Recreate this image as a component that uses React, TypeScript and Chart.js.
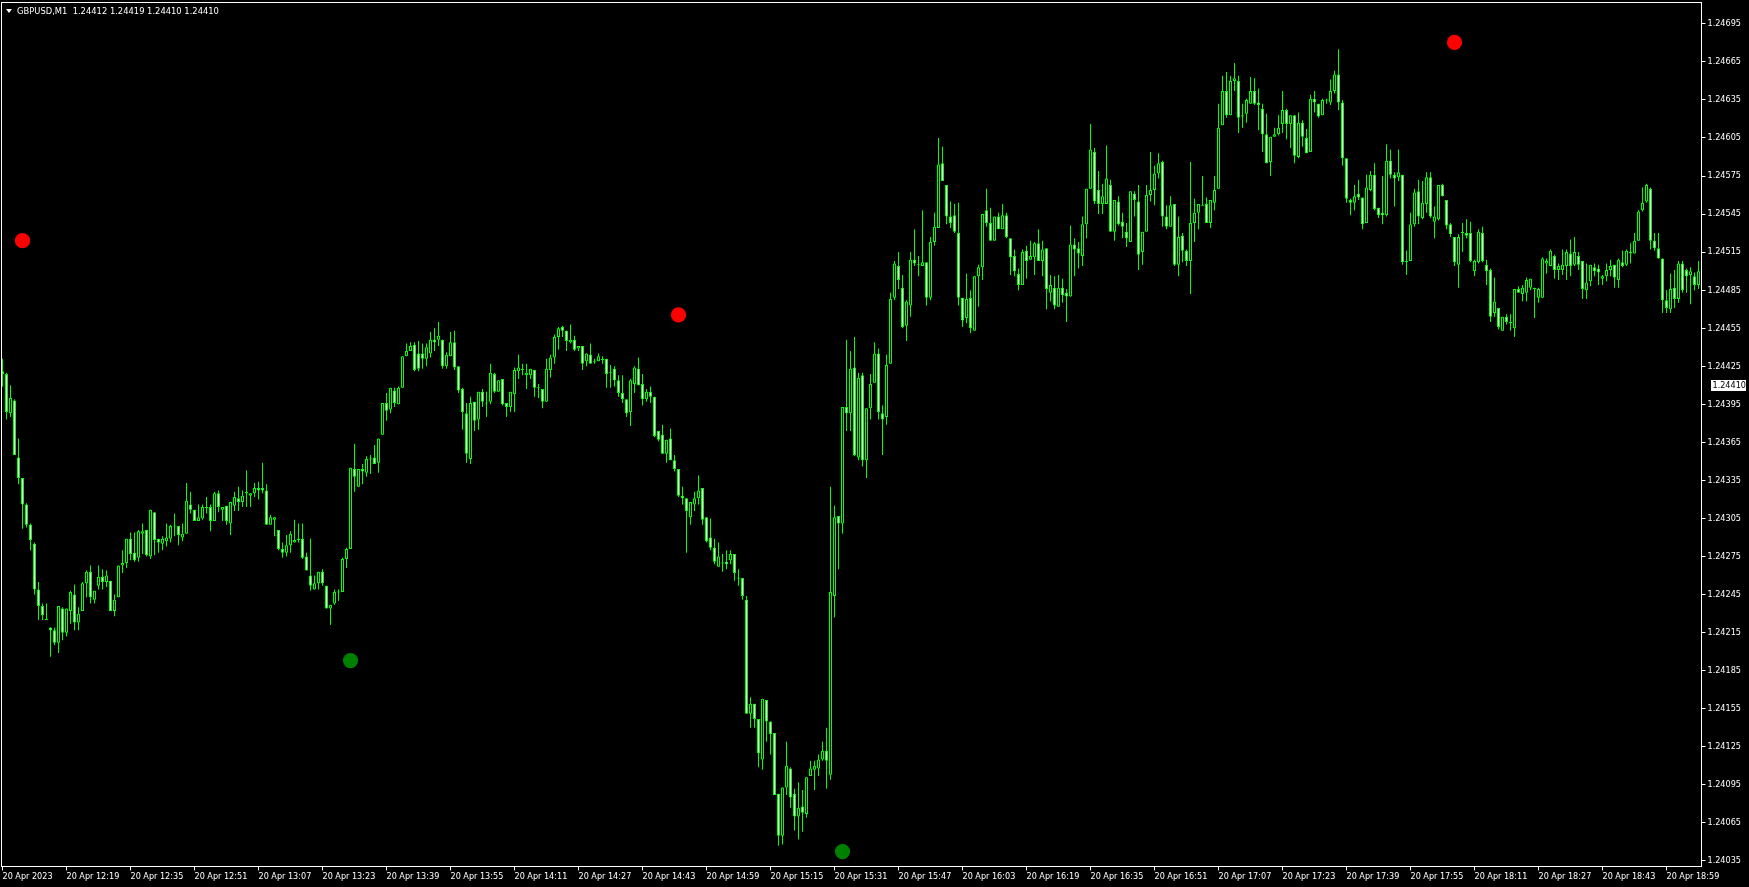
import React, { useEffect, useRef } from "react";
import { Chart, registerables } from "chart.js";

Chart.register(...registerables);

const symbolTitle = "GBPUSD,M1  1.24412 1.24419 1.24410 1.24410";
const currentPrice = 1.2441;

const firstBarMinute = 12 * 60 + 3;
const tickEvery = 16;
const tickLabels = [
  "20 Apr 2023", "20 Apr 12:19", "20 Apr 12:35", "20 Apr 12:51", "20 Apr 13:07", "20 Apr 13:23",
  "20 Apr 13:39", "20 Apr 13:55", "20 Apr 14:11", "20 Apr 14:27", "20 Apr 14:43", "20 Apr 14:59",
  "20 Apr 15:15", "20 Apr 15:31", "20 Apr 15:47", "20 Apr 16:03", "20 Apr 16:19", "20 Apr 16:35",
  "20 Apr 16:51", "20 Apr 17:07", "20 Apr 17:23", "20 Apr 17:39", "20 Apr 17:55", "20 Apr 18:11",
  "20 Apr 18:27", "20 Apr 18:43", "20 Apr 18:59",
];

const priceTicks = [
  1.24035, 1.24065, 1.24095, 1.24125, 1.24155, 1.24185, 1.24215, 1.24245, 1.24275, 1.24305, 1.24335,
  1.24365, 1.24395, 1.24425, 1.24455, 1.24485, 1.24515, 1.24545, 1.24575, 1.24605, 1.24635, 1.24665,
  1.24695,
];
const priceMin = 1.2403066;
const priceMax = 1.2471179;

const opens = [
1.24421,1.24419,1.24388,1.24398,1.24353,1.24337,1.24316,1.24300,1.24285,1.24249,
1.24236,1.24226,1.24219,1.24217,1.24207,1.24234,1.24215,1.24232,1.24245,1.24223,
1.24232,1.24254,1.24263,1.24241,1.24252,1.24259,1.24255,1.24256,1.24232,1.24243,
1.24268,1.24270,1.24289,1.24278,1.24274,1.24293,1.24296,1.24275,1.24310,1.24289,
1.24285,1.24287,1.24289,1.24299,1.24299,1.24290,1.24293,1.24316,1.24312,1.24303,
1.24305,1.24314,1.24314,1.24303,1.24325,1.24312,1.24315,1.24301,1.24315,1.24321,
1.24318,1.24325,1.24323,1.24325,1.24329,1.24329,1.24327,1.24300,1.24304,1.24296,
1.24281,1.24278,1.24284,1.24286,1.24288,1.24289,1.24275,1.24260,1.24249,1.24254,
1.24263,1.24252,1.24234,1.24238,1.24247,1.24247,1.24273,1.24281,1.24344,1.24330,
1.24344,1.24341,1.24352,1.24353,1.24349,1.24371,1.24396,1.24391,1.24406,1.24395,
1.24408,1.24433,1.24437,1.24442,1.24435,1.24435,1.24431,1.24435,1.24446,1.24446,
1.24446,1.24425,1.24433,1.24444,1.24425,1.24407,1.24388,1.24352,1.24397,1.24383,
1.24405,1.24396,1.24397,1.24419,1.24405,1.24415,1.24396,1.24393,1.24403,1.24421,
1.24423,1.24418,1.24418,1.24422,1.24408,1.24407,1.24397,1.24422,1.24432,1.24448,
1.24456,1.24453,1.24444,1.24446,1.24439,1.24441,1.24429,1.24434,1.24429,1.24429,
1.24431,1.24431,1.24420,1.24423,1.24414,1.24404,1.24399,1.24389,1.24411,1.24423,
1.24411,1.24399,1.24405,1.24401,1.24374,1.24371,1.24356,1.24368,1.24351,1.24344,
1.24323,1.24321,1.24306,1.24316,1.24321,1.24329,1.24306,1.24290,1.24282,1.24267,
1.24270,1.24271,1.24272,1.24277,1.24258,1.24258,1.24241,1.24151,1.24159,1.24147,
1.24115,1.24162,1.24145,1.24136,1.24088,1.24055,1.24093,1.24108,1.24088,1.24070,
1.24078,1.24072,1.24102,1.24107,1.24108,1.24115,1.24122,1.24103,1.24244,1.24307,
1.24301,1.24393,1.24388,1.24424,1.24353,1.24418,1.24351,1.24392,1.24412,1.24435,
1.24388,1.24385,1.24427,1.24479,1.24504,1.24487,1.24457,1.24473,1.24509,1.24505,
1.24504,1.24507,1.24479,1.24523,1.24534,1.24585,1.24568,1.24543,1.24544,1.24530,
1.24479,1.24463,1.24479,1.24453,1.24496,1.24503,1.24548,1.24538,1.24524,1.24543,
1.24533,1.24544,1.24526,1.24512,1.24498,1.24489,1.24516,1.24509,1.24511,1.24522,
1.24508,1.24518,1.24483,1.24487,1.24472,1.24487,1.24483,1.24480,1.24521,1.24518,
1.24512,1.24537,1.24565,1.24594,1.24564,1.24553,1.24553,1.24568,1.24531,1.24555,
1.24539,1.24531,1.24523,1.24561,1.24555,1.24515,1.24531,1.24560,1.24564,1.24577,
1.24586,1.24543,1.24535,1.24553,1.24505,1.24528,1.24516,1.24508,1.24538,1.24546,
1.24552,1.24553,1.24538,1.24554,1.24565,1.24615,1.24642,1.24623,1.24650,1.24650,
1.24623,1.24624,1.24632,1.24642,1.24633,1.24628,1.24608,1.24586,1.24606,1.24608,
1.24616,1.24627,1.24616,1.24623,1.24590,1.24617,1.24605,1.24594,1.24636,1.24632,
1.24623,1.24635,1.24633,1.24642,1.24655,1.24633,1.24589,1.24556,1.24554,1.24561,
1.24558,1.24538,1.24564,1.24576,1.24550,1.24546,1.24544,1.24587,1.24576,1.24574,
1.24576,1.24508,1.24508,1.24537,1.24563,1.24542,1.24553,1.24574,1.24539,1.24541,
1.24568,1.24556,1.24537,1.24527,1.24505,1.24530,1.24530,1.24530,1.24500,1.24507,
1.24530,1.24505,1.24501,1.24467,1.24471,1.24453,1.24464,1.24459,1.24455,1.24486,
1.24482,1.24483,1.24487,1.24487,1.24479,1.24479,1.24506,1.24504,1.24512,1.24501,
1.24501,1.24504,1.24514,1.24505,1.24512,1.24508,1.24485,1.24492,1.24503,1.24502,
1.24494,1.24496,1.24501,1.24505,1.24493,1.24507,1.24505,1.24514,1.24514,1.24524,
1.24548,1.24555,1.24565,1.24524,1.24518,1.24510,1.24477,1.24470,1.24487,1.24478,
1.24506,1.24501,1.24497,1.24496,1.24489,
];

const highs = [
1.24431,1.24420,1.24410,1.24399,1.24368,1.24337,1.24317,1.24301,1.24286,1.24255,
1.24238,1.24238,1.24219,1.24219,1.24236,1.24235,1.24234,1.24248,1.24253,1.24235,
1.24255,1.24264,1.24268,1.24248,1.24268,1.24265,1.24264,1.24256,1.24245,1.24268,
1.24280,1.24289,1.24294,1.24294,1.24296,1.24301,1.24296,1.24312,1.24310,1.24289,
1.24291,1.24301,1.24300,1.24309,1.24299,1.24301,1.24333,1.24326,1.24312,1.24316,
1.24316,1.24322,1.24316,1.24326,1.24327,1.24314,1.24315,1.24318,1.24326,1.24330,
1.24327,1.24343,1.24325,1.24333,1.24334,1.24349,1.24332,1.24308,1.24306,1.24296,
1.24286,1.24292,1.24295,1.24304,1.24301,1.24301,1.24278,1.24289,1.24260,1.24263,
1.24265,1.24252,1.24237,1.24249,1.24249,1.24274,1.24282,1.24345,1.24364,1.24344,
1.24348,1.24354,1.24355,1.24363,1.24368,1.24396,1.24404,1.24408,1.24408,1.24409,
1.24433,1.24443,1.24444,1.24444,1.24445,1.24443,1.24443,1.24452,1.24455,1.24460,
1.24446,1.24436,1.24452,1.24453,1.24425,1.24408,1.24396,1.24401,1.24397,1.24405,
1.24407,1.24405,1.24427,1.24420,1.24414,1.24415,1.24396,1.24405,1.24424,1.24434,
1.24427,1.24427,1.24423,1.24422,1.24411,1.24407,1.24431,1.24434,1.24450,1.24456,
1.24457,1.24453,1.24458,1.24449,1.24441,1.24441,1.24435,1.24443,1.24431,1.24435,
1.24433,1.24431,1.24426,1.24425,1.24418,1.24418,1.24399,1.24415,1.24425,1.24432,
1.24419,1.24407,1.24409,1.24401,1.24374,1.24379,1.24367,1.24376,1.24355,1.24344,
1.24330,1.24321,1.24318,1.24326,1.24339,1.24329,1.24306,1.24305,1.24289,1.24286,
1.24277,1.24280,1.24280,1.24277,1.24265,1.24258,1.24244,1.24164,1.24159,1.24147,
1.24163,1.24162,1.24145,1.24136,1.24088,1.24093,1.24129,1.24109,1.24092,1.24097,
1.24091,1.24101,1.24114,1.24114,1.24119,1.24129,1.24140,1.24330,1.24315,1.24307,
1.24393,1.24446,1.24437,1.24448,1.24420,1.24420,1.24392,1.24419,1.24444,1.24439,
1.24394,1.24434,1.24483,1.24508,1.24515,1.24497,1.24477,1.24515,1.24533,1.24512,
1.24548,1.24507,1.24527,1.24546,1.24605,1.24598,1.24568,1.24555,1.24553,1.24554,
1.24479,1.24498,1.24485,1.24496,1.24505,1.24545,1.24565,1.24550,1.24543,1.24546,
1.24553,1.24546,1.24526,1.24517,1.24502,1.24517,1.24520,1.24524,1.24523,1.24533,
1.24524,1.24518,1.24497,1.24496,1.24497,1.24494,1.24486,1.24536,1.24526,1.24523,
1.24543,1.24565,1.24616,1.24597,1.24579,1.24569,1.24599,1.24572,1.24556,1.24559,
1.24546,1.24538,1.24563,1.24563,1.24568,1.24531,1.24568,1.24594,1.24583,1.24593,
1.24587,1.24552,1.24559,1.24553,1.24543,1.24530,1.24517,1.24586,1.24557,1.24553,
1.24575,1.24558,1.24556,1.24575,1.24632,1.24654,1.24657,1.24654,1.24664,1.24654,
1.24632,1.24636,1.24653,1.24652,1.24644,1.24632,1.24624,1.24606,1.24613,1.24623,
1.24642,1.24628,1.24623,1.24623,1.24625,1.24619,1.24612,1.24639,1.24642,1.24632,
1.24636,1.24636,1.24651,1.24658,1.24675,1.24635,1.24589,1.24557,1.24568,1.24572,
1.24558,1.24576,1.24579,1.24585,1.24550,1.24575,1.24600,1.24596,1.24578,1.24596,
1.24576,1.24516,1.24546,1.24565,1.24572,1.24571,1.24578,1.24578,1.24551,1.24568,
1.24569,1.24556,1.24538,1.24527,1.24529,1.24538,1.24541,1.24539,1.24509,1.24533,
1.24535,1.24509,1.24502,1.24495,1.24471,1.24464,1.24466,1.24466,1.24486,1.24488,
1.24489,1.24495,1.24494,1.24487,1.24487,1.24511,1.24510,1.24517,1.24513,1.24506,
1.24517,1.24517,1.24525,1.24527,1.24515,1.24508,1.24506,1.24505,1.24506,1.24505,
1.24497,1.24506,1.24509,1.24505,1.24510,1.24516,1.24517,1.24522,1.24530,1.24548,
1.24566,1.24569,1.24566,1.24530,1.24530,1.24510,1.24485,1.24498,1.24501,1.24508,
1.24508,1.24502,1.24503,1.24499,1.24508,
];

const lows = [
1.24409,1.24383,1.24385,1.24355,1.24332,1.24297,1.24298,1.24280,1.24245,1.24225,
1.24225,1.24225,1.24196,1.24205,1.24199,1.24209,1.24212,1.24222,1.24217,1.24217,
1.24232,1.24243,1.24238,1.24238,1.24249,1.24249,1.24251,1.24232,1.24228,1.24243,
1.24262,1.24266,1.24272,1.24271,1.24271,1.24277,1.24275,1.24273,1.24276,1.24278,
1.24280,1.24283,1.24286,1.24291,1.24284,1.24287,1.24293,1.24309,1.24303,1.24303,
1.24304,1.24309,1.24295,1.24303,1.24310,1.24303,1.24300,1.24292,1.24311,1.24311,
1.24314,1.24314,1.24314,1.24322,1.24320,1.24325,1.24300,1.24300,1.24291,1.24280,
1.24274,1.24275,1.24278,1.24286,1.24286,1.24273,1.24264,1.24248,1.24249,1.24249,
1.24252,1.24234,1.24221,1.24237,1.24240,1.24247,1.24266,1.24281,1.24326,1.24330,
1.24332,1.24338,1.24340,1.24348,1.24341,1.24371,1.24382,1.24388,1.24393,1.24395,
1.24408,1.24433,1.24437,1.24421,1.24421,1.24423,1.24425,1.24432,1.24437,1.24441,
1.24423,1.24423,1.24433,1.24422,1.24404,1.24375,1.24349,1.24348,1.24374,1.24375,
1.24393,1.24385,1.24395,1.24404,1.24405,1.24394,1.24385,1.24389,1.24389,1.24415,
1.24418,1.24407,1.24415,1.24401,1.24400,1.24392,1.24397,1.24416,1.24427,1.24438,
1.24448,1.24437,1.24443,1.24437,1.24437,1.24422,1.24425,1.24427,1.24427,1.24429,
1.24427,1.24408,1.24408,1.24409,1.24401,1.24396,1.24385,1.24378,1.24404,1.24410,
1.24394,1.24397,1.24396,1.24369,1.24366,1.24356,1.24349,1.24351,1.24342,1.24322,
1.24316,1.24278,1.24300,1.24311,1.24316,1.24300,1.24286,1.24280,1.24269,1.24267,
1.24263,1.24265,1.24269,1.24256,1.24252,1.24241,1.24151,1.24140,1.24140,1.24109,
1.24107,1.24129,1.24119,1.24087,1.24047,1.24048,1.24087,1.24077,1.24059,1.24052,
1.24058,1.24069,1.24102,1.24091,1.24102,1.24114,1.24092,1.24099,1.24227,1.24265,
1.24293,1.24374,1.24374,1.24354,1.24351,1.24346,1.24337,1.24383,1.24412,1.24383,
1.24355,1.24379,1.24427,1.24477,1.24486,1.24455,1.24445,1.24464,1.24504,1.24496,
1.24504,1.24473,1.24477,1.24520,1.24534,1.24571,1.24537,1.24534,1.24530,1.24473,
1.24456,1.24459,1.24451,1.24453,1.24472,1.24493,1.24535,1.24524,1.24524,1.24533,
1.24533,1.24526,1.24497,1.24496,1.24485,1.24489,1.24494,1.24509,1.24497,1.24508,
1.24496,1.24470,1.24476,1.24470,1.24472,1.24475,1.24460,1.24480,1.24496,1.24502,
1.24504,1.24526,1.24565,1.24553,1.24545,1.24545,1.24553,1.24531,1.24524,1.24536,
1.24526,1.24519,1.24523,1.24543,1.24501,1.24505,1.24531,1.24555,1.24552,1.24573,
1.24535,1.24533,1.24535,1.24504,1.24496,1.24507,1.24504,1.24482,1.24523,1.24533,
1.24552,1.24538,1.24534,1.24548,1.24565,1.24615,1.24621,1.24623,1.24642,1.24609,
1.24613,1.24617,1.24632,1.24631,1.24611,1.24594,1.24585,1.24575,1.24606,1.24607,
1.24609,1.24604,1.24597,1.24585,1.24589,1.24598,1.24593,1.24594,1.24625,1.24621,
1.24623,1.24632,1.24631,1.24640,1.24627,1.24583,1.24554,1.24544,1.24548,1.24556,
1.24533,1.24538,1.24563,1.24548,1.24542,1.24537,1.24543,1.24573,1.24551,1.24571,
1.24505,1.24497,1.24508,1.24535,1.24537,1.24541,1.24546,1.24542,1.24526,1.24540,
1.24559,1.24533,1.24527,1.24504,1.24487,1.24515,1.24526,1.24507,1.24496,1.24506,
1.24507,1.24489,1.24460,1.24464,1.24454,1.24453,1.24458,1.24453,1.24448,1.24483,
1.24476,1.24476,1.24485,1.24463,1.24475,1.24479,1.24498,1.24504,1.24494,1.24493,
1.24497,1.24493,1.24496,1.24504,1.24501,1.24478,1.24478,1.24488,1.24496,1.24489,
1.24489,1.24492,1.24496,1.24487,1.24487,1.24503,1.24504,1.24506,1.24514,1.24524,
1.24547,1.24554,1.24517,1.24516,1.24510,1.24467,1.24467,1.24467,1.24471,1.24475,
1.24483,1.24483,1.24474,1.24485,1.24486,
];

const closes = [
1.24419,1.24389,1.24400,1.24355,1.24337,1.24316,1.24300,1.24288,1.24249,1.24236,
1.24229,1.24225,1.24217,1.24207,1.24236,1.24215,1.24234,1.24247,1.24223,1.24230,
1.24254,1.24263,1.24243,1.24248,1.24259,1.24255,1.24260,1.24232,1.24241,1.24268,
1.24270,1.24289,1.24277,1.24272,1.24295,1.24295,1.24276,1.24312,1.24288,1.24286,
1.24289,1.24290,1.24299,1.24299,1.24292,1.24293,1.24319,1.24312,1.24303,1.24306,
1.24314,1.24313,1.24303,1.24325,1.24314,1.24314,1.24303,1.24318,1.24322,1.24318,
1.24323,1.24326,1.24325,1.24329,1.24327,1.24327,1.24300,1.24306,1.24306,1.24281,
1.24278,1.24284,1.24293,1.24288,1.24289,1.24274,1.24264,1.24252,1.24254,1.24263,
1.24254,1.24234,1.24237,1.24247,1.24247,1.24273,1.24281,1.24345,1.24338,1.24344,
1.24342,1.24352,1.24352,1.24348,1.24368,1.24396,1.24390,1.24408,1.24396,1.24408,
1.24433,1.24437,1.24441,1.24422,1.24423,1.24431,1.24440,1.24446,1.24444,1.24449,
1.24425,1.24434,1.24444,1.24424,1.24406,1.24389,1.24356,1.24396,1.24382,1.24405,
1.24397,1.24396,1.24420,1.24405,1.24414,1.24395,1.24393,1.24405,1.24422,1.24424,
1.24422,1.24420,1.24423,1.24408,1.24408,1.24397,1.24423,1.24432,1.24448,1.24455,
1.24453,1.24445,1.24446,1.24438,1.24441,1.24427,1.24435,1.24427,1.24429,1.24433,
1.24430,1.24419,1.24420,1.24414,1.24404,1.24399,1.24388,1.24414,1.24424,1.24410,
1.24399,1.24405,1.24401,1.24370,1.24367,1.24356,1.24367,1.24351,1.24344,1.24323,
1.24321,1.24311,1.24318,1.24321,1.24327,1.24304,1.24287,1.24282,1.24271,1.24275,
1.24270,1.24269,1.24277,1.24262,1.24258,1.24244,1.24151,1.24159,1.24147,1.24120,
1.24163,1.24145,1.24135,1.24087,1.24055,1.24093,1.24110,1.24085,1.24070,1.24077,
1.24073,1.24101,1.24108,1.24110,1.24115,1.24122,1.24114,1.24247,1.24306,1.24301,
1.24393,1.24388,1.24423,1.24355,1.24416,1.24351,1.24392,1.24411,1.24435,1.24389,
1.24383,1.24426,1.24478,1.24506,1.24493,1.24456,1.24476,1.24509,1.24506,1.24505,
1.24507,1.24479,1.24523,1.24535,1.24584,1.24571,1.24543,1.24538,1.24531,1.24479,
1.24461,1.24478,1.24455,1.24496,1.24503,1.24545,1.24538,1.24524,1.24543,1.24533,
1.24544,1.24527,1.24511,1.24500,1.24489,1.24515,1.24508,1.24512,1.24522,1.24508,
1.24517,1.24486,1.24489,1.24473,1.24487,1.24481,1.24480,1.24521,1.24517,1.24514,
1.24537,1.24565,1.24596,1.24555,1.24553,1.24559,1.24573,1.24531,1.24556,1.24537,
1.24535,1.24526,1.24563,1.24556,1.24513,1.24531,1.24560,1.24564,1.24577,1.24585,
1.24543,1.24535,1.24552,1.24505,1.24527,1.24516,1.24508,1.24538,1.24546,1.24553,
1.24552,1.24538,1.24556,1.24564,1.24613,1.24642,1.24623,1.24650,1.24652,1.24621,
1.24622,1.24635,1.24642,1.24632,1.24631,1.24608,1.24585,1.24606,1.24608,1.24613,
1.24627,1.24616,1.24623,1.24591,1.24617,1.24606,1.24593,1.24636,1.24633,1.24622,
1.24635,1.24635,1.24642,1.24655,1.24633,1.24589,1.24557,1.24554,1.24559,1.24558,
1.24537,1.24566,1.24576,1.24549,1.24544,1.24544,1.24587,1.24576,1.24573,1.24578,
1.24507,1.24507,1.24537,1.24562,1.24543,1.24554,1.24574,1.24543,1.24543,1.24568,
1.24559,1.24536,1.24529,1.24507,1.24527,1.24531,1.24528,1.24508,1.24508,1.24531,
1.24508,1.24500,1.24464,1.24476,1.24456,1.24464,1.24460,1.24460,1.24486,1.24483,
1.24487,1.24493,1.24494,1.24486,1.24486,1.24510,1.24508,1.24516,1.24501,1.24504,
1.24505,1.24515,1.24504,1.24515,1.24505,1.24486,1.24491,1.24505,1.24500,1.24499,
1.24496,1.24501,1.24504,1.24495,1.24509,1.24504,1.24516,1.24515,1.24524,1.24547,
1.24554,1.24568,1.24524,1.24518,1.24510,1.24477,1.24471,1.24486,1.24478,1.24506,
1.24485,1.24496,1.24500,1.24489,1.24500,
];

const sellSignalBars = [5, 169, 363];
const sellSignalPrices = [1.24524, 1.244656, 1.246803];
const buySignalBars = [87, 210];
const buySignalPrices = [1.24193, 1.240424];

const FONT_FAMILY = "'DejaVu Sans Condensed', 'Liberation Sans', Arial, sans-serif";
const BULL_FILL = "#000000";
const BEAR_FILL = "#ffffff";
const CANDLE_LINE = "#00ff00";

export default function App() {
  const canvasRef = useRef<HTMLCanvasElement | null>(null);

  useEffect(() => {
    document.body.style.margin = "0";
    document.body.style.background = "#000";
    const canvas = canvasRef.current;
    if (!canvas) return;

    const n = closes.length;
    const barTimes = opens.map((_, i) => {
      const m = firstBarMinute + i;
      const hh = String(Math.floor(m / 60)).padStart(2, "0");
      const mm = String(m % 60).padStart(2, "0");
      return `${hh}:${mm}`;
    });

    const minBody = 0.0000079;
    const wickData = opens.map((o, i) => [
      Math.min(lows[i], o, closes[i]),
      Math.max(highs[i], o, closes[i]),
    ]);
    const bodyData = opens.map((o, i) => {
      let lo = Math.min(o, closes[i]);
      let hi = Math.max(o, closes[i]);
      if (hi - lo < minBody) {
        const mid = (hi + lo) / 2;
        lo = mid - minBody / 2;
        hi = mid + minBody / 2;
      }
      return [lo, hi];
    });
    const bodyFill = opens.map((o, i) => (closes[i] < o ? BEAR_FILL : BULL_FILL));

    const sellData: (number | null)[] = new Array(n).fill(null);
    sellSignalBars.forEach((b, k) => (sellData[b] = sellSignalPrices[k]));
    const buyData: (number | null)[] = new Array(n).fill(null);
    buySignalBars.forEach((b, k) => (buyData[b] = buySignalPrices[k]));

    const framePlugin = {
      id: "mtFrame",
      afterDraw(chart: any) {
        const { ctx, chartArea } = chart;
        ctx.save();
        ctx.strokeStyle = "#ffffff";
        ctx.lineWidth = 1;
        ctx.strokeRect(
          chartArea.left + 1,
          chartArea.top,
          chartArea.right - chartArea.left,
          chartArea.bottom - chartArea.top
        );
        const y = chart.scales.y.getPixelForValue(currentPrice);
        const x = chartArea.right + 10.5;
        ctx.fillStyle = "#ffffff";
        ctx.fillRect(x, Math.round(y) - 5, 35, 11);
        ctx.fillStyle = "#000000";
        ctx.font = `9px ${FONT_FAMILY}`;
        ctx.textBaseline = "middle";
        ctx.textAlign = "left";
        ctx.fillText(currentPrice.toFixed(5), x + 1.5, Math.round(y) + 0.5);
        ctx.restore();
      },
    };

    const chart = new Chart(canvas, {
      type: "bar",
      data: {
        labels: barTimes,
        datasets: [
          {
            type: "line",
            label: "sell",
            data: sellData,
            showLine: false,
            pointRadius: 7.6,
            pointHoverRadius: 7.6,
            pointBackgroundColor: "#ff0000",
            pointBorderColor: "#ff0000",
            pointBorderWidth: 0,
            clip: false,
            order: 1,
          } as any,
          {
            type: "line",
            label: "buy",
            data: buyData,
            showLine: false,
            pointRadius: 7.6,
            pointHoverRadius: 7.6,
            pointBackgroundColor: "#008000",
            pointBorderColor: "#008000",
            pointBorderWidth: 0,
            clip: false,
            order: 1,
          } as any,
          {
            type: "bar",
            label: "body",
            data: bodyData as any,
            backgroundColor: bodyFill,
            borderColor: CANDLE_LINE,
            borderWidth: 1,
            borderSkipped: false,
            barThickness: 3,
            grouped: false,
            inflateAmount: 0,
            order: 2,
          } as any,
          {
            type: "bar",
            label: "wick",
            data: wickData as any,
            backgroundColor: CANDLE_LINE,
            borderWidth: 0,
            barThickness: 1,
            grouped: false,
            inflateAmount: 0,
            order: 3,
          } as any,
        ],
      },
      options: {
        animation: false,
        responsive: false,
        devicePixelRatio: 1,
        events: [],
        layout: { autoPadding: false, padding: { left: 0.5, top: 2.5, right: 0, bottom: 0 } },
        plugins: {
          legend: { display: false },
          tooltip: { enabled: false },
          title: { display: false },
        },
        scales: {
          x: {
            type: "category",
            offset: true,
            grid: {
              display: true,
              drawOnChartArea: false,
              drawTicks: true,
              tickLength: 4,
              color: "#ffffff",
              offset: false,
            },
            border: { display: false },
            ticks: {
              autoSkip: false,
              maxRotation: 0,
              minRotation: 0,
              align: "start",
              padding: 1,
              color: "#ffffff",
              font: { family: FONT_FAMILY, size: 9 },
              callback: (_v: any, index: number) => tickLabels[index] ?? "",
            },
            afterBuildTicks: (scale: any) => {
              scale.ticks = scale.ticks.filter((t: any) => t.value % tickEvery === 0);
            },
            afterFit: (scale: any) => {
              scale.height = 20.5;
              scale.paddingLeft = 0;
              scale.paddingRight = 0;
            },
          },
          y: {
            type: "linear",
            position: "right",
            min: priceMin,
            max: priceMax,
            grid: {
              drawOnChartArea: false,
              drawTicks: true,
              tickLength: 5,
              color: "#ffffff",
            },
            border: { display: false },
            ticks: {
              autoSkip: false,
              padding: 2,
              color: "#ffffff",
              font: { family: FONT_FAMILY, size: 9 },
              callback: (v: any) => Number(v).toFixed(5),
            },
            afterBuildTicks: (scale: any) => {
              scale.ticks = priceTicks.map((v) => ({ value: v }));
            },
            afterFit: (scale: any) => {
              scale.width = 48.5;
              scale.paddingTop = 0;
              scale.paddingBottom = 0;
            },
          },
        },
      } as any,
      plugins: [framePlugin],
    });

    return () => chart.destroy();
  }, []);

  return (
    <div style={{ position: "relative", width: 1749, height: 887, background: "#000", overflow: "hidden" }}>
      <canvas ref={canvasRef} width={1749} height={887} style={{ display: "block", background: "#000" }} />
      <div
        style={{
          position: "absolute",
          left: 6,
          top: 9,
          width: 0,
          height: 0,
          borderLeft: "3px solid transparent",
          borderRight: "3px solid transparent",
          borderTop: "4px solid #ffffff",
        }}
      />
      <div
        style={{
          position: "absolute",
          left: 17,
          top: 5,
          color: "#ffffff",
          fontFamily: FONT_FAMILY,
          fontSize: "9.3px",
          lineHeight: "11px",
          whiteSpace: "pre",
        }}
      >
        {symbolTitle}
      </div>
    </div>
  );
}
